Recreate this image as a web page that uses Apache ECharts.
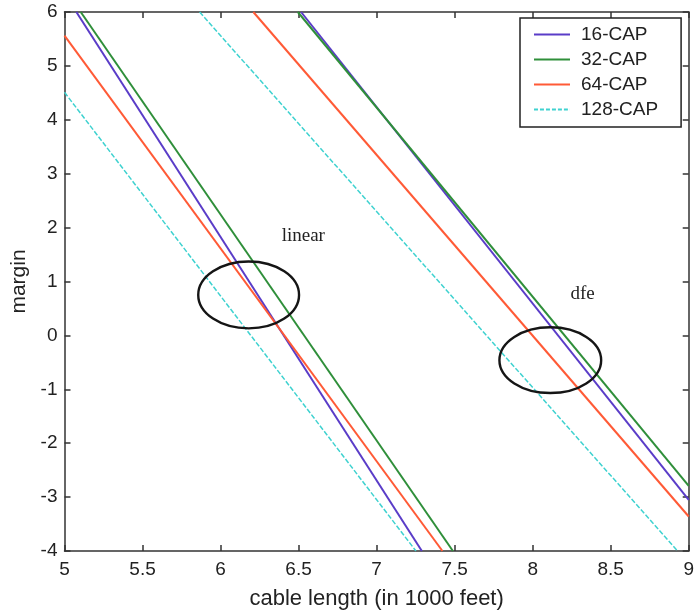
<!DOCTYPE html>
<html>
<head>
<meta charset="utf-8">
<script src="https://cdn.jsdelivr.net/npm/echarts@6/dist/echarts.min.js"></script>
<style>
  html, body { margin: 0; padding: 0; background: #fff; }
  #chart { width: 697px; height: 615px; }
</style>
</head>
<body>
<div id="chart"></div>
<script>
// Margin (dB) versus cable length (thousand feet) for each CAP constellation size.
// Each curve is a straight segment given by its end points.
const capNames = ['16-CAP', '32-CAP', '64-CAP', '128-CAP'];
const capColors = ['#5a3cc8', '#2f8f3a', '#ff5a36', '#3fd2d0'];

// linear equaliser
const linear16 = [[5.076, 6], [7.29, -4]];
const linear32 = [[5.104, 6], [7.489, -4]];
const linear64 = [[5.0, 5.56], [7.422, -4]];
const linear128 = [[5.0, 4.51], [7.252, -4]];

// decision-feedback equaliser
const dfe16 = [[6.516, 6], [9.0, -3.05]];
const dfe32 = [[6.495, 6], [9.0, -2.79]];
const dfe64 = [[6.21, 6], [9.0, -3.36]];
const dfe128 = [[5.866, 6], [8.929, -4]];

// circled regions: [centre x, centre y, radius x, radius y]
const ringLinear = [6.18, 0.75, 0.323, 0.62];
const ringDfe = [8.113, -0.46, 0.326, 0.61];

// region labels: [x, y, text]
const regionLabels = [[6.53, 1.84, 'linear'], [8.32, 0.76, 'dfe']];

const xTicks = { min: 5, max: 9, step: 0.5 };
const yTicks = { min: -4, max: 6, step: 1 };

const linearSets = [linear16, linear32, linear64, linear128];
const dfeSets = [dfe16, dfe32, dfe64, dfe128];

const axisColor = '#333';
const labelFont = 'Liberation Sans, Arial, sans-serif';

// legend keys: a plain stroke, or a dashed one for the dashed series
const solidKey = 'path://M0,0h36v2h-36z';
const dashedKey = 'path://M0,0h4v2h-4z M6,0h4v2h-4z M12,0h4v2h-4z M18,0h4v2h-4z M24,0h4v2h-4z M30,0h4v2h-4z M36,0h0.1v2h-0.1z';

function lineStyleFor(i) {
  const s = { color: capColors[i], width: i === 3 ? 1.5 : 2 };
  if (i === 3) s.type = [5, 2];
  return s;
}

const series = [];
capNames.forEach((name, i) => {
  [linearSets[i], dfeSets[i]].forEach(pts => {
    series.push({
      name: name,
      type: 'line',
      data: pts,
      showSymbol: false,
      symbol: 'none',
      lineStyle: lineStyleFor(i),
      itemStyle: { color: capColors[i] },
      silent: true,
      z: 3
    });
  });
});

series.push({
  type: 'custom',
  silent: true,
  z: 5,
  data: [ringLinear, ringDfe],
  renderItem: function (params, api) {
    const c = api.coord([api.value(0), api.value(1)]);
    const s = api.size([api.value(2), api.value(3)]);
    return {
      type: 'ellipse',
      shape: { cx: c[0], cy: c[1], rx: s[0], ry: s[1] },
      style: { fill: 'none', stroke: '#151515', lineWidth: 2.4 }
    };
  }
});

series.push({
  type: 'custom',
  silent: true,
  z: 5,
  data: regionLabels,
  renderItem: function (params, api) {
    const c = api.coord([api.value(0), api.value(1)]);
    return {
      type: 'text',
      x: c[0],
      y: c[1],
      style: {
        text: regionLabels[params.dataIndex][2],
        font: '19px "Liberation Serif", "Times New Roman", serif',
        fill: '#222',
        textAlign: 'center',
        textVerticalAlign: 'middle'
      }
    };
  }
});

const chart = echarts.init(document.getElementById('chart'), null, { renderer: 'canvas' });

const baseX = {
  type: 'value',
  min: xTicks.min, max: xTicks.max, interval: xTicks.step,
  axisLine: { show: true, onZero: false, lineStyle: { color: axisColor, width: 1.5 } },
  axisTick: { show: true, inside: true, length: 6, lineStyle: { color: axisColor, width: 1.5 } },
  splitLine: { show: false }
};
const baseY = {
  type: 'value',
  min: yTicks.min, max: yTicks.max, interval: yTicks.step,
  axisLine: { show: true, onZero: false, lineStyle: { color: axisColor, width: 1.5 } },
  axisTick: { show: true, inside: true, length: 6, lineStyle: { color: axisColor, width: 1.5 } },
  splitLine: { show: false }
};

chart.setOption({
  animation: false,
  backgroundColor: '#fff',
  grid: { left: 64.5, right: 5.5, top: 12, bottom: 64 },
  legend: {
    data: capNames.map((n, i) => ({ name: n, icon: i === 3 ? dashedKey : solidKey })),
    orient: 'vertical',
    left: 520,
    top: 18,
    padding: [7, 23, 8, 14],
    itemGap: 6,
    itemWidth: 36,
    itemHeight: 2,
    borderColor: '#222',
    borderWidth: 1.5,
    backgroundColor: '#fff',
    selectedMode: false,
    textStyle: { fontFamily: labelFont, fontSize: 19, lineHeight: 19, color: '#222', padding: [0, 0, 0, 6] }
  },
  xAxis: [
    Object.assign({}, baseX, {
      position: 'bottom',
      name: 'cable length (in 1000 feet)',
      nameLocation: 'middle',
      nameGap: 37,
      nameTextStyle: { fontFamily: labelFont, fontSize: 22, color: '#222' },
      axisLabel: { fontFamily: labelFont, fontSize: 19, color: '#222', margin: 9 }
    }),
    Object.assign({}, baseX, { position: 'top', axisLabel: { show: false } })
  ],
  yAxis: [
    Object.assign({}, baseY, {
      position: 'left',
      name: 'margin',
      nameLocation: 'middle',
      nameGap: 34,
      nameTextStyle: { fontFamily: labelFont, fontSize: 21, color: '#222' },
      axisLabel: { fontFamily: labelFont, fontSize: 19, color: '#222', margin: 7 }
    }),
    Object.assign({}, baseY, { position: 'right', axisLabel: { show: false } })
  ],
  series: series
});
</script>
</body>
</html>
